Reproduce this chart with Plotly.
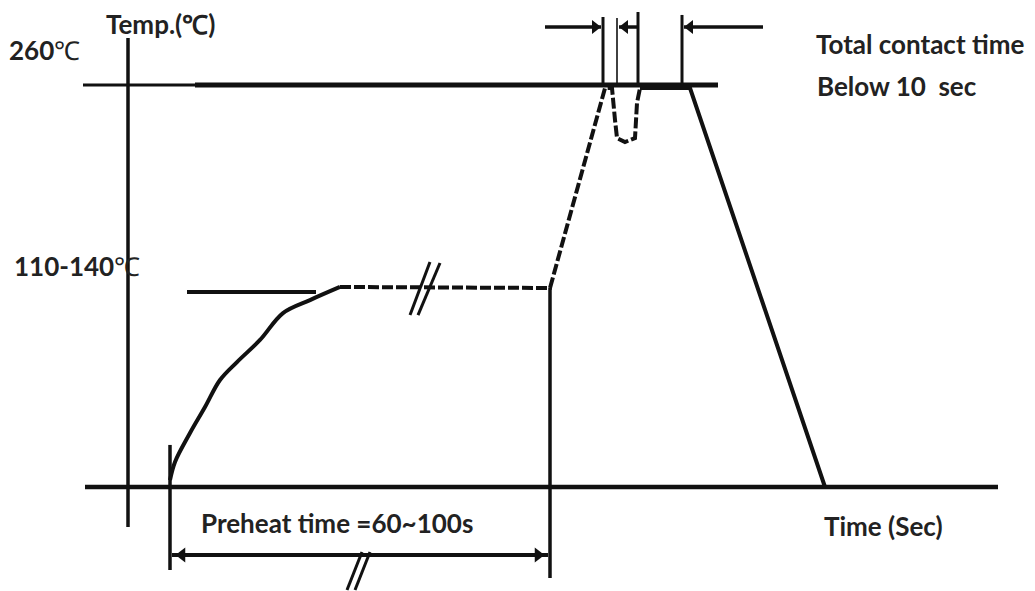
import plotly.graph_objects as go

# ---- data (time in arbitrary diagram units, temperature in deg C) ----
# preheat ramp (solid)
ramp_time = [170, 175, 190, 205, 220, 237, 260, 283, 310, 340]
ramp_temp = [4.5, 16.2, 34.9, 51.7, 69.2, 80.8, 95.1, 112.5, 120.9, 129.4]
# preheat plateau, rise to peak and dip (dashed)
soak_time = [340, 550, 605, 612, 615, 617, 625, 635, 637, 640]
soak_temp = [129.4, 128.7, 258, 258, 237.4, 225.7, 223.1, 225.7, 248.4, 258]
# top plateau and cooling (solid)
cool_time = [640, 690, 825]
cool_temp = [258, 258, 0]

peak_temp = 260
peak_line_time = [83, 195, 718]
preheat_temp = 126.1
preheat_ref_time = [187, 316]

axis_time_span = [85, 998]
axis_temp_span = [-25.9, 290.4]
axis_temp_pos = 128

preheat_start = 170
preheat_end = 550
preheat_arrow_temp = -44

contact_marks_time = [603, 617, 638, 682]
contact_marks_top = [304, 303.3, 307.2, 305.3]
contact_arrow_temp = 297.5

labels = {
    "temp_axis": "<b>Temp.(℃)</b>",
    "peak": "<b>260</b>℃",
    "preheat": "<b>110-140</b>℃",
    "contact1": "<b>Total contact time</b>",
    "contact2": "<b>Below 10  sec</b>",
    "preheat_time": "<b>Preheat time =60~100s</b>",
    "time_axis": "<b>Time (Sec)</b>",
}

INK = "#111111"
TXT = "#222222"

fig = go.Figure()


def seg(x, y, w=3.5, dash=None, color=INK, shape="linear"):
    fig.add_trace(go.Scatter(x=x, y=y, mode="lines",
                             line=dict(color=color, width=w, dash=dash, shape=shape),
                             hoverinfo="skip", showlegend=False))


def tri(x, y, sym, size=12):
    fig.add_trace(go.Scatter(x=[x], y=[y], mode="markers",
                             marker=dict(symbol=sym, size=size, color=INK),
                             hoverinfo="skip", showlegend=False))


# axes
seg(axis_time_span, [0, 0], w=4.5)
seg([axis_temp_pos, axis_temp_pos], axis_temp_span, w=3.5)

# 260 line (thin left part, thick right part)
seg(peak_line_time[:2], [peak_temp, peak_temp], w=3)
seg(peak_line_time[1:], [peak_temp, peak_temp], w=5)

# preheat reference line
seg(preheat_ref_time, [preheat_temp, preheat_temp], w=4)

# profile
seg(ramp_time, ramp_temp, w=4, shape="spline")
seg(soak_time, soak_temp, w=4, dash="11px,3px")
seg(cool_time, cool_temp, w=4)

# preheat time markers
seg([preheat_start, preheat_start], [27.2, -53.7], w=3.5)
seg([preheat_end, preheat_end], [128.7, -58.9], w=3.5)
seg([preheat_start + 2, preheat_end - 2], [preheat_arrow_temp] * 2, w=4)
tri(preheat_start + 12, preheat_arrow_temp, "triangle-left", 13)
tri(preheat_end - 12, preheat_arrow_temp, "triangle-right", 13)

# break marks
seg([410, 430], [111.2, 145.5], w=3)
seg([418, 440], [111.2, 144.9], w=3)
seg([347, 362], [-66.6, -42], w=3)
seg([355, 370], [-66.6, -42], w=3)

# contact time dimension
for t, top, w in zip(contact_marks_time, contact_marks_top, [3, 1.6, 3, 3]):
    seg([t, t], [top, peak_temp], w=w)
seg([545, 601], [contact_arrow_temp] * 2, w=3.5)
tri(595, contact_arrow_temp, "triangle-right", 12)
seg([619, 637], [contact_arrow_temp] * 2, w=3.5)
tri(625, contact_arrow_temp, "triangle-left", 12)
seg([684, 763], [contact_arrow_temp] * 2, w=3.5)
tri(690, contact_arrow_temp, "triangle-left", 12)

# texts
FONT = "Lato"
texts = [
    ("temp_axis", 104, 299.4, 26, 0),
    ("peak", 10, 282.6, 26, -3),
    ("preheat", 12, 142.9, 26, 0),
    ("contact1", 814, 286.5, 26, 0),
    ("contact2", 815, 259.4, 26, 0),
    ("preheat_time", 199, -23.3, 26, 0),
    ("time_axis", 822, -25.2, 26, 0),
]
for key, x, y, s, shift in texts:
    fig.add_annotation(x=x, y=y, text=labels[key], showarrow=False,
                       xanchor="left", yanchor="middle", xshift=shift,
                       font=dict(family=FONT, size=s, color=TXT))

# the page body adds an 8px offset; ranges are shifted to compensate
OFF = 8
px_per_deg = 402 / 260
fig.update_layout(
    width=1035, height=591,
    margin=dict(l=0, r=0, t=0, b=0),
    paper_bgcolor="white", plot_bgcolor="white",
    xaxis=dict(range=[OFF, 1035 + OFF], visible=False, fixedrange=True),
    yaxis=dict(range=[(487 - 591 - OFF) / px_per_deg, (487 - OFF) / px_per_deg],
               visible=False, fixedrange=True),
    showlegend=False,
)

fig.write_html("out.html")
